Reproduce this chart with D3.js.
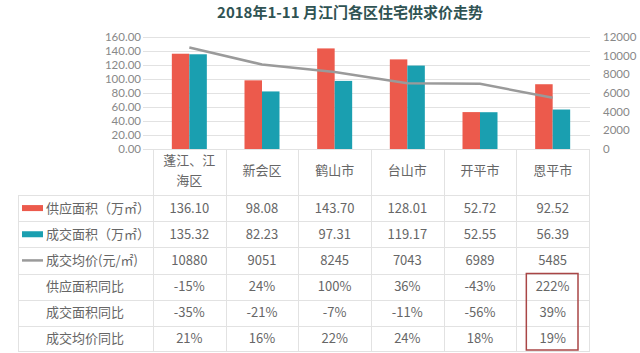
<!DOCTYPE html>
<html>
<head>
<meta charset="utf-8">
<script src="https://cdn.jsdelivr.net/npm/d3@7"></script>
<style>
  body { margin: 0; background: #fff; }
  svg { display: block; font-family: "Noto Sans CJK SC", "Noto Sans", sans-serif; }
</style>
</head>
<body>
<div id="chart"></div>
<script>
// values
var categories = ['蓬江、江海区', '新会区', '鹤山市', '台山市', '开平市', '恩平市']
var supply = [136.10, 98.08, 143.70, 128.01, 52.72, 92.52]
var deal = [135.32, 82.23, 97.31, 119.17, 52.55, 56.39]
var price = [10880, 9051, 8245, 7043, 6989, 5485]
var supplyYoY = ['-15%', '24%', '100%', '36%', '-43%', '222%']
var dealYoY = ['-35%', '-21%', '-7%', '-11%', '-56%', '39%']
var priceYoY = ['21%', '16%', '22%', '24%', '18%', '19%']
var leftTicks = [0, 20, 40, 60, 80, 100, 120, 140, 160]
var rightTicks = [0, 2000, 4000, 6000, 8000, 10000, 12000]
var rowLabels = ['供应面积（万㎡）', '成交面积（万㎡）', '成交均价(元/㎡)', '供应面积同比', '成交面积同比', '成交均价同比']

var width = 640
var height = 353
var red = '#ec5a4c'
var teal = '#1a9fb0'
var gray = '#9a9a9a'
var gridColor = '#e2e2e2'
var textColor = '#666'

var svg = d3.select('#chart').append('svg')
  .attr('width', width)
  .attr('height', height)

svg.append('text')
  .attr('x', 350)
  .attr('y', 18)
  .attr('text-anchor', 'middle')
  .attr('font-size', 15)
  .attr('font-weight', 'bold')
  .attr('fill', '#2f5353')
  .text('2018年1-11 月江门各区住宅供求价走势')

var x = d3.scaleBand()
  .domain(categories)
  .range([153, 589])

var yLeft = d3.scaleLinear()
  .domain([0, 160])
  .range([149, 37])

var yRight = d3.scaleLinear()
  .domain([0, 12000])
  .range([149, 37])

// gridlines
svg.selectAll('line.grid')
  .data(leftTicks)
  .enter().append('line')
  .attr('class', 'grid')
  .attr('x1', 143)
  .attr('x2', 590)
  .attr('y1', function (d) { return yLeft(d) + 0.5 })
  .attr('y2', function (d) { return yLeft(d) + 0.5 })
  .attr('stroke', gridColor)

// axis labels (Lato keeps the boxes inside the 14px tick spacing)
svg.selectAll('text.yLeft')
  .data(leftTicks)
  .enter().append('text')
  .attr('class', 'yLeft')
  .attr('x', 141)
  .attr('y', function (d) { return yLeft(d) })
  .attr('dy', '0.35em')
  .attr('text-anchor', 'end')
  .attr('font-family', 'Lato, sans-serif')
  .attr('font-size', 11.5)
  .attr('fill', '#888')
  .text(d3.format('.2f'))

svg.selectAll('text.yRight')
  .data(rightTicks)
  .enter().append('text')
  .attr('class', 'yRight')
  .attr('x', 603)
  .attr('y', function (d) { return yRight(d) })
  .attr('dy', '0.35em')
  .attr('font-family', 'Lato, sans-serif')
  .attr('font-size', 11.5)
  .attr('fill', '#888')
  .text(function (d) { return d })

// bars
var barWidth = 17.5
svg.selectAll('rect.supply')
  .data(supply)
  .enter().append('rect')
  .attr('class', 'supply')
  .attr('x', function (d, i) { return x(categories[i]) + x.bandwidth() / 2 - barWidth })
  .attr('y', function (d) { return yLeft(d) })
  .attr('width', barWidth)
  .attr('height', function (d) { return yLeft(0) - yLeft(d) })
  .attr('fill', red)

svg.selectAll('rect.deal')
  .data(deal)
  .enter().append('rect')
  .attr('class', 'deal')
  .attr('x', function (d, i) { return x(categories[i]) + x.bandwidth() / 2 })
  .attr('y', function (d) { return yLeft(d) })
  .attr('width', barWidth)
  .attr('height', function (d) { return yLeft(0) - yLeft(d) })
  .attr('fill', teal)

// price line
var line = d3.line()
  .x(function (d, i) { return x(categories[i]) + x.bandwidth() / 2 })
  .y(function (d) { return yRight(d) })

svg.append('path')
  .datum(price)
  .attr('d', line)
  .attr('fill', 'none')
  .attr('stroke', gray)
  .attr('stroke-width', 2.5)

// table
var rows = d3.scaleBand()
  .domain(rowLabels)
  .range([195, 352])

var tableLeft = 18
var tableRight = 589

svg.selectAll('line.hrow')
  .data(rowLabels)
  .enter().append('line')
  .attr('class', 'hrow')
  .attr('x1', tableLeft)
  .attr('x2', tableRight)
  .attr('y1', function (d) { return Math.round(rows(d)) + 0.5 })
  .attr('y2', function (d) { return Math.round(rows(d)) + 0.5 })
  .attr('stroke', gridColor)

svg.append('line')
  .attr('x1', tableLeft)
  .attr('x2', tableRight)
  .attr('y1', 351.5)
  .attr('y2', 351.5)
  .attr('stroke', gridColor)

svg.append('line')
  .attr('x1', tableLeft + 0.5)
  .attr('x2', tableLeft + 0.5)
  .attr('y1', 195)
  .attr('y2', 352)
  .attr('stroke', gridColor)

var edges = categories.map(function (c) { return x(c) }).concat([x.range()[1]])
svg.selectAll('line.vcol')
  .data(edges)
  .enter().append('line')
  .attr('class', 'vcol')
  .attr('x1', function (d) { return Math.round(d) + 0.5 })
  .attr('x2', function (d) { return Math.round(d) + 0.5 })
  .attr('y1', 149)
  .attr('y2', 352)
  .attr('stroke', gridColor)

// header row: category names, long names wrap after 4 characters
svg.selectAll('text.cat')
  .data(categories)
  .enter().append('text')
  .attr('class', 'cat')
  .attr('x', function (d) { return x(d) + x.bandwidth() / 2 })
  .attr('text-anchor', 'middle')
  .attr('font-size', 13)
  .attr('fill', textColor)
  .each(function (d) {
    var parts = d.length > 4 ? [d.slice(0, 4), d.slice(4)] : [d]
    var el = d3.select(this)
    parts.forEach(function (p, j) {
      el.append('tspan')
        .attr('x', x(d) + x.bandwidth() / 2)
        .attr('y', 170 + (j - (parts.length - 1) / 2) * 20)
        .attr('dy', '0.35em')
        .text(p)
    })
  })

// row labels with legend keys
var labelG = svg.selectAll('g.rowLabel')
  .data(rowLabels)
  .enter().append('g')
  .attr('class', 'rowLabel')
  .attr('transform', function (d) { return 'translate(0,' + (rows(d) + rows.bandwidth() / 2) + ')' })

labelG.filter(function (d, i) { return i < 2 })
  .append('rect')
  .attr('x', 22)
  .attr('y', -3)
  .attr('width', 21)
  .attr('height', 6)
  .attr('fill', function (d, i) { return i === 0 ? red : teal })

labelG.filter(function (d, i) { return i === 2 })
  .append('line')
  .attr('x1', 22)
  .attr('x2', 43)
  .attr('stroke', gray)
  .attr('stroke-width', 2.5)

labelG.append('text')
  .attr('x', function (d, i) { return i < 3 ? 46 : 85 })
  .attr('dy', '0.35em')
  .attr('text-anchor', function (d, i) { return i < 3 ? 'start' : 'middle' })
  .attr('font-size', 13)
  .attr('fill', textColor)
  .text(function (d) { return d })

// table values
var tableRows = [
  supply.map(d3.format('.2f')),
  deal.map(d3.format('.2f')),
  price.map(function (d) { return String(d) }),
  supplyYoY,
  dealYoY,
  priceYoY
]

tableRows.forEach(function (vals, r) {
  svg.selectAll('text.val' + r)
    .data(vals)
    .enter().append('text')
    .attr('class', 'val' + r)
    .attr('x', function (d, i) { return x(categories[i]) + x.bandwidth() / 2 })
    .attr('y', rows(rowLabels[r]) + rows.bandwidth() / 2)
    .attr('dy', '0.35em')
    .attr('text-anchor', 'middle')
    .attr('font-size', 13)
    .attr('fill', textColor)
    .text(function (d) { return d })
})

// highlight box around the last column's yoy figures
var lastCat = categories[categories.length - 1]
svg.append('rect')
  .attr('x', x(lastCat) + 10)
  .attr('y', rows(rowLabels[3]))
  .attr('width', x.bandwidth() - 21)
  .attr('height', rows.bandwidth() * 3 - 2)
  .attr('fill', 'none')
  .attr('stroke', '#a94646')
  .attr('stroke-width', 1.5)
</script>
</body>
</html>
